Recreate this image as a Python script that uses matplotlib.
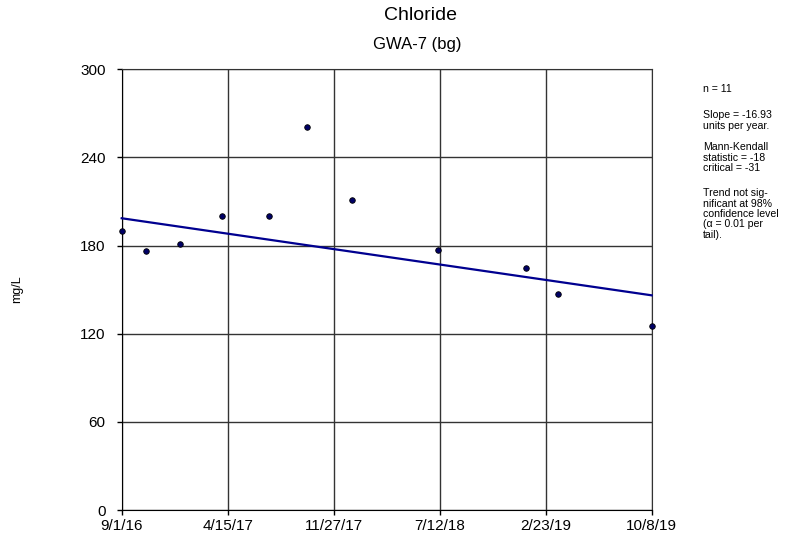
import numpy as np
import matplotlib
matplotlib.use('Agg')
import matplotlib.pyplot as plt
import matplotlib.dates as mdates
import datetime as dt

plt.rcParams['font.family'] = ['Liberation Sans', 'DejaVu Sans']

# sample dates and chloride values (mg/L)
dates = ['2016-09-01', '2016-10-23', '2017-01-04', '2017-04-04', '2017-07-12',
         '2017-10-01', '2018-01-06', '2018-07-08', '2019-01-13', '2019-03-22',
         '2019-10-08']
values = [190, 176, 181, 200, 200, 261, 211, 177, 165, 147, 125]

# Sen's slope trend line
trend_start = 198.6
slope_per_year = -16.93

tick_labels = ['9/1/16', '4/15/17', '11/27/17', '7/12/18', '2/23/19', '10/8/19']
yticks = [0, 60, 120, 180, 240, 300]

W, H = 791, 544

x = [dt.datetime.strptime(d, '%Y-%m-%d') for d in dates]
xn = mdates.date2num(x)

fig = plt.figure(figsize=(W / 100, H / 100), dpi=100)
ax = fig.add_axes([121.7 / W, 1 - 510 / H, 530 / W, 440.7 / H])

x0, x1 = xn[0], xn[-1]
ticks = np.linspace(x0, x1, len(tick_labels))

ax.set_xlim(x0, x1)
ax.set_ylim(0, 300)
ax.set_xticks(ticks)
ax.set_xticklabels(tick_labels)
ax.set_yticks(yticks)
ax.grid(True, color='#333333', linewidth=1.0)
ax.set_axisbelow(True)
ax.tick_params(axis='both', labelsize=11, length=3.6, width=1, color='black')
ax.tick_params(axis='x', pad=3)
ax.tick_params(axis='y', pad=8)
for s in ax.spines.values():
    s.set_color('#333333')
ax.spines['bottom'].set_color('black')
ax.spines['left'].set_color('black')

# trend line
tx = np.array([x0, x1])
ty = trend_start + slope_per_year * (tx - x0) / 365.25
ax.plot(tx, ty, color='#000090', linewidth=1.6, clip_on=False, zorder=3)

ax.plot(xn, values, 'o', color='#000066', markeredgecolor='black',
        markeredgewidth=0.6, markersize=4, clip_on=False, zorder=4)

fig.text(420 / W, 1 - 15.5 / H, 'Chloride', ha='center', va='center', fontsize=14)
fig.text(417 / W, 1 - 44 / H, 'GWA-7 (bg)', ha='center', va='center', fontsize=12)
fig.text(17 / W, 1 - 289 / H, 'mg/L', rotation=90, ha='center', va='center', fontsize=9)

notes = [
    (88, 'n = 11'),
    (115, 'Slope = -16.93'),
    (125.3, 'units per year.'),
    (147, 'Mann-Kendall'),
    (157.3, 'statistic = -18'),
    (167.6, 'critical = -31'),
    (193, 'Trend not sig-'),
    (203.3, 'nificant at 98%'),
    (213.6, 'confidence level'),
    (223.9, '(\u03b1 = 0.01 per'),
    (234.2, 'tail).'),
]
for ypix, txt in notes:
    fig.text(703 / W, 1 - (ypix + 3.5) / H, txt, ha='left', va='baseline', fontsize=7.6)

fig.savefig('out.png', dpi=100)
